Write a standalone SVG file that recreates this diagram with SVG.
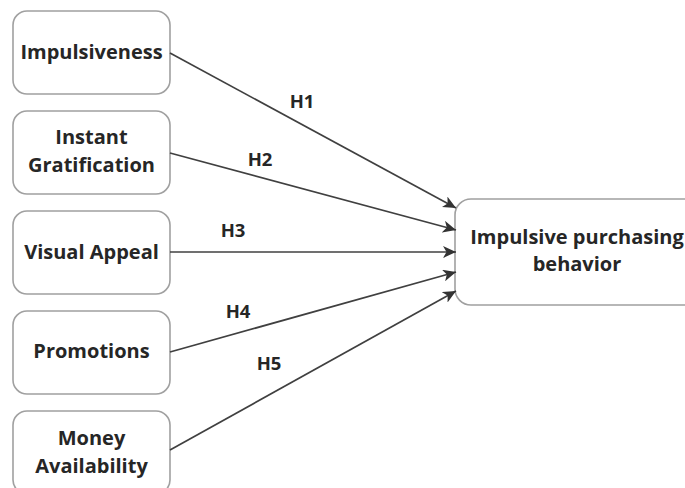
<svg xmlns="http://www.w3.org/2000/svg" width="685" height="488" viewBox="0 0 685 488">
<style>
.box{fill:#fff;stroke:#a0a0a0;stroke-width:1.6}
.t{font-family:"Open Sans","Noto Sans","DejaVu Sans",sans-serif;font-weight:700;font-size:20px;fill:#262626;text-anchor:middle}
.h{font-size:18.5px}
.c{stroke:#404040;stroke-width:1.7;fill:none;marker-end:url(#ah)}
</style>
<defs>
<marker id="ah" markerUnits="userSpaceOnUse" markerWidth="14" markerHeight="12" refX="13" refY="6" orient="auto" viewBox="0 0 14 12">
<path d="M0,0 L13,6 L0,12 L3.5,6 z" fill="#333"/>
</marker>
</defs>
<rect width="685" height="488" fill="#fff"/>
<g id="n1"><rect class="box" x="13" y="11" width="157" height="83" rx="14"/><text class="t" x="91.5" y="59">Impulsiveness</text></g>
<g id="n2"><rect class="box" x="13" y="111" width="157" height="83" rx="14"/><text class="t" x="91.5" y="144">Instant</text><text class="t" x="91.5" y="172">Gratification</text></g>
<g id="n3"><rect class="box" x="13" y="211" width="157" height="83" rx="14"/><text class="t" x="91.5" y="259">Visual Appeal</text></g>
<g id="n4"><rect class="box" x="13" y="311" width="157" height="83" rx="14"/><text class="t" x="91.5" y="358">Promotions</text></g>
<g id="n5"><rect class="box" x="13" y="411" width="157" height="83" rx="14"/><text class="t" x="91.5" y="445">Money</text><text class="t" x="91.5" y="473">Availability</text></g>
<g id="target"><rect class="box" x="455" y="199" width="245" height="106" rx="16"/><text class="t" x="577" y="244">Impulsive purchasing</text><text class="t" x="577" y="271">behavior</text></g>
<g id="connectors">
<line class="c" x1="170" y1="53" x2="456" y2="208"/>
<line class="c" x1="170" y1="153" x2="456" y2="230"/>
<line class="c" x1="170" y1="252" x2="456" y2="252"/>
<line class="c" x1="170" y1="352" x2="456" y2="272"/>
<line class="c" x1="170" y1="450" x2="456" y2="291"/>
<text class="t h" x="302" y="108">H1</text>
<text class="t h" x="260" y="166">H2</text>
<text class="t h" x="233" y="237">H3</text>
<text class="t h" x="238" y="318">H4</text>
<text class="t h" x="269" y="370">H5</text>
</g>
</svg>
